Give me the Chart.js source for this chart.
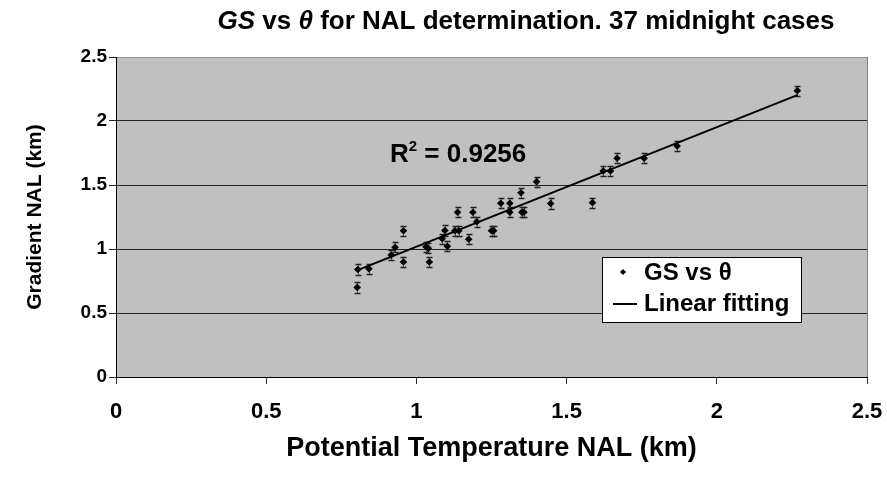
<!DOCTYPE html>
<html><head><meta charset="utf-8">
<script src="https://cdn.jsdelivr.net/npm/chart.js@4"></script>
<style>html,body{margin:0;padding:0;background:#fff}#wrap{width:887px;height:479px;position:relative}</style>
</head><body><div id="wrap"><canvas id="c" width="887" height="479"></canvas></div>
<script>
// ---- data ----
const thetaNAL = [0.805,0.803,0.842,0.916,0.929,0.957,0.957,1.032,1.040,1.043,1.086,1.095,1.103,1.128,1.141,1.137,1.174,1.188,1.201,1.250,1.257,1.281,1.311,1.311,1.348,1.351,1.358,1.400,1.447,1.586,1.622,1.646,1.668,1.758,1.868,2.268];
const gsNAL    = [0.840,0.700,0.846,0.953,1.013,1.143,0.898,1.018,1.005,0.898,1.080,1.145,1.022,1.143,1.143,1.287,1.076,1.287,1.213,1.143,1.143,1.357,1.357,1.287,1.440,1.287,1.287,1.526,1.355,1.362,1.610,1.610,1.709,1.709,1.805,2.237];
const gsErr    = [0.04,0.04,0.04,0.04,0.04,0.04,0.04,0.04,0.04,0.04,0.04,0.04,0.04,0.04,0.04,0.04,0.04,0.04,0.04,0.04,0.04,0.04,0.04,0.04,0.04,0.04,0.04,0.04,0.04,0.04,0.04,0.04,0.04,0.04,0.04,0.04];
const fitX = [0.80, 2.27];
const fitY = [0.831, 2.204];
const xTicks = [0, 0.5, 1, 1.5, 2, 2.5];
const xTickLabels = ['0','0.5','1','1.5','2','2.5'];
const yTicks = [0, 0.5, 1, 1.5, 2, 2.5];
const yTickLabels = ['0','0.5','1','1.5','2','2.5'];
const seriesNames = ['GS vs θ', 'Linear fitting'];
const r2Text = '0.9256';
const titleParts = [['GS', true], [' vs ', false], ['θ', true], [' for NAL determination. 37 midnight cases', false]];
const xTitle = 'Potential Temperature NAL (km)';
const yTitle = 'Gradient NAL (km)';

const FAM = '"Liberation Sans", Arial, sans-serif';

const plotBg = {
  id: 'plotBg',
  beforeDraw(chart) {
    const {ctx, chartArea: a} = chart;
    ctx.save();
    ctx.fillStyle = '#C0C0C0';
    ctx.fillRect(a.left, a.top, a.right - a.left, a.bottom - a.top);
    ctx.strokeStyle = '#808080';
    ctx.lineWidth = 1;
    ctx.strokeRect(a.left + 0.5, a.top + 0.5, a.right - a.left, a.bottom - a.top);
    ctx.restore();
  }
};

const errorBars = {
  id: 'errorBars',
  beforeDatasetsDraw(chart) {
    const {ctx, scales: {x, y}} = chart;
    ctx.save();
    thetaNAL.forEach((t, i) => {
      const px = Math.round(x.getPixelForValue(t)) + 0.5;
      const y1 = Math.round(y.getPixelForValue(gsNAL[i] - gsErr[i])) + 0.5;
      const y2 = Math.round(y.getPixelForValue(gsNAL[i] + gsErr[i])) + 0.5;
      ctx.strokeStyle = '#555';
      ctx.lineWidth = 1;
      ctx.beginPath(); ctx.moveTo(px, y1); ctx.lineTo(px, y2); ctx.stroke();
      ctx.strokeStyle = '#222';
      ctx.lineWidth = 1.3;
      ctx.beginPath();
      ctx.moveTo(px - 3, y1); ctx.lineTo(px + 3, y1);
      ctx.moveTo(px - 3, y2); ctx.lineTo(px + 3, y2);
      ctx.stroke();
    });
    ctx.restore();
  }
};

const texts = {
  id: 'texts',
  afterDraw(chart) {
    const {ctx} = chart;
    ctx.save();
    // title
    ctx.fillStyle = '#000';
    ctx.textBaseline = 'alphabetic';
    let total = 0;
    const fonts = titleParts.map(([s, it]) => (it ? 'italic ' : '') + 'bold 26px ' + FAM);
    titleParts.forEach(([s], i) => { ctx.font = fonts[i]; total += ctx.measureText(s).width; });
    let tx = 526 - total / 2;
    titleParts.forEach(([s], i) => { ctx.font = fonts[i]; ctx.textAlign = 'left'; ctx.fillText(s, tx, 29); tx += ctx.measureText(s).width; });

    // R^2 label
    ctx.font = 'bold 26px ' + FAM;
    let rx = 390, ry = 162;
    ctx.fillText('R', rx, ry); rx += ctx.measureText('R').width;
    ctx.font = 'bold 15px ' + FAM;
    ctx.fillText('2', rx, ry - 11); rx += ctx.measureText('2').width;
    ctx.font = 'bold 26px ' + FAM;
    ctx.fillText(' = ' + r2Text, rx, ry);

    // legend box
    const lx = 602, ly = 257, lw = 199, lh = 65;
    ctx.fillStyle = '#fff';
    ctx.fillRect(lx, ly, lw, lh);
    ctx.strokeStyle = '#000'; ctx.lineWidth = 1;
    ctx.strokeRect(lx + 0.5, ly + 0.5, lw, lh);
    // marker
    ctx.fillStyle = '#000';
    ctx.beginPath();
    const mx = 623, my = 272, r = 3;
    ctx.moveTo(mx, my - r); ctx.lineTo(mx + r, my); ctx.lineTo(mx, my + r); ctx.lineTo(mx - r, my); ctx.closePath(); ctx.fill();
    // line
    ctx.lineWidth = 2;
    ctx.beginPath(); ctx.moveTo(613, 304); ctx.lineTo(637, 304); ctx.stroke();
    ctx.font = 'bold 24px ' + FAM;
    ctx.textBaseline = 'middle';
    ctx.fillText(seriesNames[0], 644, 273);
    ctx.fillText(seriesNames[1], 644, 304);
    ctx.restore();
  }
};

new Chart(document.getElementById('c'), {
  type: 'scatter',
  data: {
    datasets: [
      {
        label: seriesNames[0],
        data: thetaNAL.map((t, i) => ({x: t, y: gsNAL[i]})),
        pointStyle: 'rectRot',
        pointRadius: 3.8,
        backgroundColor: '#000',
        borderColor: '#000',
        borderWidth: 0,
        order: 1
      },
      {
        label: seriesNames[1],
        type: 'line',
        data: fitX.map((t, i) => ({x: t, y: fitY[i]})),
        borderColor: '#000',
        borderWidth: 2,
        pointRadius: 0,
        fill: false,
        order: 0
      }
    ]
  },
  options: {
    responsive: false,
    animation: false,
    devicePixelRatio: 1,
    layout: {padding: {top: 57, right: 20, left: 0, bottom: 0}},
    plugins: {legend: {display: false}, tooltip: {enabled: false}, title: {display: false}},
    scales: {
      x: {
        type: 'linear', min: 0, max: 2.5,
        afterBuildTicks: s => { s.ticks = xTicks.map(v => ({value: v})); },
        afterFit: s => { s.height = 102; s.paddingLeft = 0; s.paddingRight = 0; },
        ticks: {
          callback: (v, i) => xTickLabels[i],
          color: '#000', padding: 15,
          font: {family: FAM, size: 22, weight: 'bold'},
          maxRotation: 0
        },
        grid: {drawOnChartArea: false, drawTicks: true, tickLength: 7, tickColor: '#333'},
        border: {color: '#000', width: 1},
        title: {display: true, text: xTitle, color: '#000', font: {family: FAM, size: 27, weight: 'bold'}, padding: {top: 0, bottom: 14}}
      },
      y: {
        type: 'linear', min: 0, max: 2.5,
        afterBuildTicks: s => { s.ticks = yTicks.map(v => ({value: v})); },
        afterFit: s => { s.width = 116; s.paddingTop = 0; s.paddingBottom = 0; },
        ticks: {
          callback: (v, i) => yTickLabels[i],
          color: '#000', padding: 2,
          font: {family: FAM, size: 19, weight: 'bold'}
        },
        grid: {
          color: c => (c.tick && c.tick.value === 2.5) ? '#909090' : '#222',
          lineWidth: 1, tickLength: 7, tickColor: '#222'
        },
        border: {color: '#000', width: 1},
        title: {display: true, text: yTitle, color: '#000', font: {family: FAM, size: 21, weight: 'bold'}, padding: {top: 23, bottom: 0}}
      }
    }
  },
  plugins: [plotBg, errorBars, texts]
});
</script>
</body></html>
